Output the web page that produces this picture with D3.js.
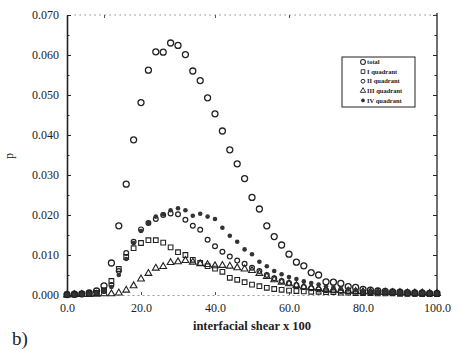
<!DOCTYPE html>
<html>
<head>
<meta charset="utf-8">
<script src="https://cdn.jsdelivr.net/npm/d3@7/dist/d3.min.js"></script>
<style>
  body { margin: 0; background: #fff; }
  svg { display: block; }
  text { font-family: "Liberation Serif", "Times New Roman", serif; fill: #222; }
</style>
</head>
<body>
<svg id="chart" width="462" height="350"></svg>
<script>
// shear values (x 100), sampled every 2 units
const shear = d3.range(0, 101, 2);

const total = [0.0001, 0.0002, 0.0003, 0.0005, 0.0010, 0.0023, 0.0080, 0.0173, 0.0277, 0.0388,
  0.0481, 0.0562, 0.0608, 0.0607, 0.0630, 0.0624, 0.0601, 0.0560, 0.0536, 0.0493,
  0.0453, 0.0410, 0.0363, 0.0328, 0.0291, 0.0244, 0.0215, 0.0173, 0.0146, 0.0125,
  0.0102, 0.0082, 0.0073, 0.0056, 0.0050, 0.0033, 0.0032, 0.0029, 0.0021, 0.0019,
  0.0014, 0.0012, 0.0010, 0.0009, 0.0008, 0.0007, 0.0006, 0.0005, 0.0005, 0.0004, 0.0004];

const quadI = [0.0001, 0.0001, 0.0002, 0.0003, 0.0005, 0.0012, 0.0035, 0.0065, 0.0095, 0.0117,
  0.0130, 0.0137, 0.0137, 0.0131, 0.0119, 0.0107, 0.0100, 0.0088, 0.0080, 0.0072,
  0.0066, 0.0058, 0.0043, 0.0038, 0.0032, 0.0026, 0.0022, 0.0018, 0.0015, 0.0013,
  0.0011, 0.0010, 0.0009, 0.0008, 0.0008, 0.0007, 0.0007, 0.0006, 0.0006, 0.0005,
  0.0005, 0.0005, 0.0004, 0.0004, 0.0004, 0.0003, 0.0003, 0.0003, 0.0002, 0.0002, 0.0002];

const quadII = [0.0001, 0.0001, 0.0002, 0.0003, 0.0005, 0.0010, 0.0025, 0.0060, 0.0105, 0.0133,
  0.0164, 0.0180, 0.0190, 0.0200, 0.0204, 0.0202, 0.0188, 0.0173, 0.0163, 0.0138,
  0.0122, 0.0108, 0.0096, 0.0086, 0.0078, 0.0068, 0.0060, 0.0050, 0.0042, 0.0035,
  0.0030, 0.0025, 0.0020, 0.0017, 0.0014, 0.0012, 0.0011, 0.0010, 0.0009, 0.0008,
  0.0007, 0.0007, 0.0006, 0.0006, 0.0005, 0.0005, 0.0004, 0.0004, 0.0004, 0.0003, 0.0003];

const quadIII = [0.0000, 0.0001, 0.0001, 0.0001, 0.0002, 0.0003, 0.0003, 0.0005, 0.0012, 0.0023,
  0.0040, 0.0054, 0.0067, 0.0071, 0.0081, 0.0083, 0.0086, 0.0082, 0.0078, 0.0076,
  0.0073, 0.0074, 0.0072, 0.0068, 0.0065, 0.0061, 0.0054, 0.0046, 0.0038, 0.0032,
  0.0028, 0.0024, 0.0020, 0.0018, 0.0016, 0.0014, 0.0012, 0.0011, 0.0010, 0.0009,
  0.0008, 0.0008, 0.0007, 0.0007, 0.0006, 0.0006, 0.0005, 0.0005, 0.0005, 0.0004, 0.0004];

const quadIV = [0.0001, 0.0001, 0.0002, 0.0003, 0.0005, 0.0010, 0.0020, 0.0050, 0.0090, 0.0130,
  0.0160, 0.0180, 0.0196, 0.0202, 0.0212, 0.0217, 0.0212, 0.0198, 0.0203, 0.0196,
  0.0190, 0.0168, 0.0148, 0.0133, 0.0114, 0.0102, 0.0083, 0.0072, 0.0060, 0.0052,
  0.0045, 0.0040, 0.0034, 0.0030, 0.0026, 0.0022, 0.0019, 0.0016, 0.0014, 0.0012,
  0.0010, 0.0009, 0.0008, 0.0007, 0.0007, 0.0006, 0.0006, 0.0005, 0.0005, 0.0004, 0.0004];

const legendLabels = ["total", "I quadrant", "II quadrant", "III quadrant", "IV quadrant"];
const xTicks = [0, 20, 40, 60, 80, 100];
const yTicks = [0, 0.01, 0.02, 0.03, 0.04, 0.05, 0.06, 0.07];

const ink = "#222";
const svg = d3.select("#chart");

const x = d3.scaleLinear().domain([0, 100]).range([67, 437]);
const y = d3.scaleLinear().domain([0, 0.07]).range([295, 15]);

// left axis
const yAxis = d3.axisLeft(y).tickValues(yTicks).tickFormat(d3.format(".3f"))
  .tickSizeInner(-4).tickSizeOuter(0).tickPadding(8);
const gy = svg.append("g").attr("transform", `translate(${x(0)},0)`).call(yAxis);
gy.select(".domain").attr("stroke", ink).attr("stroke-width", 1.6);
gy.selectAll(".tick line").attr("stroke", ink);
gy.selectAll("text").style("font-size", "12px").attr("fill", ink);

const yMinor = d3.axisLeft(y).tickValues(d3.range(0.005, 0.07, 0.01)).tickFormat("")
  .tickSizeInner(-2.5).tickSizeOuter(0);
svg.append("g").attr("transform", `translate(${x(0)},0)`).call(yMinor)
  .call(g => g.select(".domain").remove())
  .selectAll("line").attr("stroke", ink);

// right axis
const yRight = d3.axisLeft(y).tickValues(yTicks).tickFormat("").tickSizeInner(4).tickSizeOuter(0);
const gr = svg.append("g").attr("transform", `translate(${x(100)},0)`).call(yRight);
gr.select(".domain").attr("stroke", ink).attr("stroke-width", 1.3).attr("d", `M0,${y(0)}V${y(0.07) - 2}`);
gr.selectAll("line").attr("stroke", ink);
svg.append("g").attr("transform", `translate(${x(100)},0)`)
  .call(d3.axisLeft(y).tickValues(d3.range(0.005, 0.07, 0.01)).tickFormat("").tickSizeInner(2.5).tickSizeOuter(0))
  .call(g => g.select(".domain").remove())
  .selectAll("line").attr("stroke", ink);

// bottom axis (faint scanned line)
const xAxis = d3.axisBottom(x).tickValues(xTicks).tickFormat(d3.format(".1f"))
  .tickSizeInner(-3).tickSizeOuter(0).tickPadding(8);
const gx = svg.append("g").attr("transform", `translate(0,${y(0)})`).call(xAxis);
gx.select(".domain").attr("stroke", "#999").attr("stroke-dasharray", "2,3");
gx.selectAll(".tick line").attr("stroke", "#555");
gx.selectAll("text").style("font-size", "12px").attr("fill", ink);

// top axis (dotted)
const xTop = d3.axisTop(x).tickValues([10, 40, 60]).tickFormat("").tickSizeInner(-3).tickSizeOuter(0);
const gt = svg.append("g").attr("transform", `translate(0,${y(0.07)})`).call(xTop);
gt.select(".domain").attr("stroke", "#888").attr("stroke-dasharray", "1.5,3.5")
  .attr("d", `M${x(2)},0H${x(100)}`);
gt.selectAll(".tick line").attr("stroke", "#555");

// axis titles
svg.append("text").attr("x", 252).attr("y", 330).attr("text-anchor", "middle")
  .style("font-size", "12.5px").style("font-weight", "bold").text("interfacial shear x 100");
svg.append("text").attr("transform", "translate(13,156) rotate(-90)").attr("text-anchor", "middle")
  .style("font-size", "12px").text("p");
svg.append("text").attr("x", 12).attr("y", 345).style("font-size", "19px").text("b)");

// series
const series = [
  { name: legendLabels[0], values: total, kind: "bigCircle" },
  { name: legendLabels[1], values: quadI, kind: "square" },
  { name: legendLabels[2], values: quadII, kind: "smallCircle" },
  { name: legendLabels[3], values: quadIII, kind: "triangle" },
  { name: legendLabels[4], values: quadIV, kind: "dot" }
];

function drawMarker(g, kind, scale) {
  const s = scale || 1;
  if (kind === "bigCircle") {
    g.append("circle").attr("r", 3 * s).attr("fill", "none").attr("stroke", ink).attr("stroke-width", 1.3 * s);
  } else if (kind === "smallCircle") {
    g.append("circle").attr("r", 2.4 * s).attr("fill", "none").attr("stroke", ink).attr("stroke-width", 1.2 * s);
  } else if (kind === "square") {
    g.append("path").attr("d", d3.symbol(d3.symbolSquare, 22 * s * s)())
      .attr("fill", "none").attr("stroke", ink).attr("stroke-width", 1.1 * s);
  } else if (kind === "triangle") {
    g.append("path").attr("d", d3.symbol(d3.symbolTriangle, 20 * s * s)())
      .attr("fill", "none").attr("stroke", ink).attr("stroke-width", 1.1 * s);
  } else {
    g.append("circle").attr("r", 2.3 * s).attr("fill", "#333");
  }
}

series.forEach(sr => {
  const pts = svg.append("g").selectAll("g")
    .data(sr.values.map((v, i) => ({ x: shear[i], v: v })))
    .join("g")
    .attr("transform", d => `translate(${x(d.x)},${y(d.v)})`);
  pts.each(function() { drawMarker(d3.select(this), sr.kind); });
});

// legend
const lg = svg.append("g").attr("transform", "translate(342,57)");
lg.append("rect").attr("width", 73).attr("height", 50).attr("fill", "#fff")
  .attr("stroke", ink).attr("stroke-width", 1);
series.forEach((sr, i) => {
  const row = lg.append("g").attr("transform", `translate(0,${5 + i * 9.6})`);
  drawMarker(row.append("g").attr("transform", "translate(21,0)"), sr.kind, 0.8);
  row.append("text").attr("x", 25).attr("y", 2.2).style("font-size", "6.5px")
    .style("font-weight", "bold").text(sr.name);
});
</script>
</body>
</html>
